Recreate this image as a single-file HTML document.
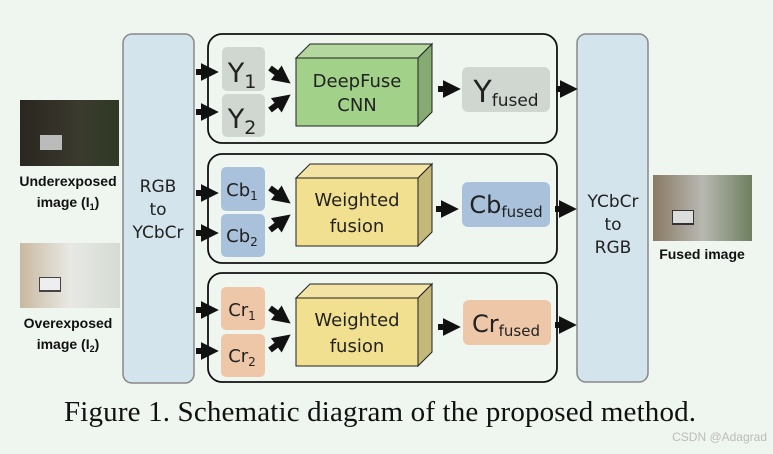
<!DOCTYPE html>
<html><head><style>body{margin:0;background:#eff5ef}</style></head><body>
<svg width="773" height="449" viewBox="0 0 773 449" xmlns="http://www.w3.org/2000/svg" font-family="'DejaVu Sans', sans-serif">
<defs>
<marker id="a" markerWidth="3" markerHeight="3" refX="1.2" refY="1.5" orient="auto" markerUnits="strokeWidth"><path d="M0,0 L3,1.5 L0,3 z" fill="#111"/></marker>
<linearGradient id="ue" x1="0" x2="1"><stop offset="0" stop-color="#2a2620"/><stop offset="0.6" stop-color="#3a3a2e"/><stop offset="1" stop-color="#2f3a25"/></linearGradient>
<linearGradient id="oe" x1="0" x2="1"><stop offset="0" stop-color="#c9b9a0"/><stop offset="0.5" stop-color="#e8e8e4"/><stop offset="1" stop-color="#d5dcd3"/></linearGradient>
<linearGradient id="fe" x1="0" x2="1"><stop offset="0" stop-color="#8a7a65"/><stop offset="0.5" stop-color="#b8b8b2"/><stop offset="1" stop-color="#6f7f60"/></linearGradient>
</defs>
<rect width="773" height="449" fill="#eff5ef"/>
<rect x="20" y="100" width="99" height="66" fill="url(#ue)"/>
<rect x="40" y="135" width="22" height="15" fill="#bbb"/>
<rect x="20" y="243" width="100" height="65" fill="url(#oe)"/>
<rect x="39" y="277" width="22" height="15" fill="#444"/><rect x="40" y="278" width="20" height="12" fill="#eee"/>
<rect x="653" y="175" width="99" height="66" fill="url(#fe)"/>
<rect x="672" y="210" width="22" height="15" fill="#333"/><rect x="673" y="211" width="20" height="12" fill="#ddd"/>
<g font-weight="bold" font-size="13" fill="#111" text-anchor="middle" font-family="'Liberation Sans', sans-serif">
<text x="68" y="186" font-size="14">Underexposed</text><text x="68" y="207" font-size="14">image (I<tspan font-size="9" dy="3">1</tspan><tspan dy="-3">)</tspan></text>
<text x="68" y="328" font-size="14">Overexposed</text><text x="68" y="349" font-size="14">image (I<tspan font-size="9" dy="3">2</tspan><tspan dy="-3">)</tspan></text>
<text x="702" y="259" font-size="14">Fused image</text>
</g>
<rect x="123" y="34" width="71" height="349" rx="9" fill="#d4e4ec" stroke="#888" stroke-width="1.5"/>
<rect x="577" y="34" width="71" height="348" rx="9" fill="#d4e4ec" stroke="#888" stroke-width="1.5"/>
<g font-size="17" fill="#222" text-anchor="middle">
<text x="158" y="192">RGB</text><text x="158" y="215">to</text><text x="158" y="238">YCbCr</text>
<text x="613" y="207">YCbCr</text><text x="613" y="230">to</text><text x="613" y="253">RGB</text>
</g>
<g fill="none" stroke="#111" stroke-width="1.8">
<rect x="208" y="34" width="349" height="109" rx="14"/>
<rect x="208" y="154" width="349" height="109" rx="14"/>
<rect x="208" y="273" width="349" height="109" rx="14"/>
</g>
<g>
<rect x="222" y="47" width="43" height="44" rx="5" fill="#d0d6d0"/>
<rect x="222" y="94" width="43" height="43" rx="5" fill="#d0d6d0"/>
<rect x="221" y="167" width="44" height="44" rx="5" fill="#a9c1db"/>
<rect x="221" y="214" width="44" height="43" rx="5" fill="#a9c1db"/>
<rect x="221" y="287" width="44" height="43" rx="5" fill="#edc7a8"/>
<rect x="221" y="334" width="44" height="43" rx="5" fill="#edc7a8"/>
</g>
<g fill="#222" text-anchor="middle">
<text x="242" y="82" font-size="27">Y<tspan font-size="19" dy="6">1</tspan></text>
<text x="242" y="128" font-size="27">Y<tspan font-size="19" dy="6">2</tspan></text>
<text x="242" y="196" font-size="18">Cb<tspan font-size="12" dy="4">1</tspan></text>
<text x="242" y="242" font-size="18">Cb<tspan font-size="12" dy="4">2</tspan></text>
<text x="242" y="316" font-size="18">Cr<tspan font-size="12" dy="4">1</tspan></text>
<text x="242" y="362" font-size="18">Cr<tspan font-size="12" dy="4">2</tspan></text>
</g>
<g stroke="#222" stroke-width="1">
<path d="M296,58 L310,44 L432,44 L418,58 z" fill="#b4d7a0"/>
<path d="M418,58 L432,44 L432,112 L418,126 z" fill="#86ab72"/>
<rect x="296" y="58" width="122" height="68" fill="#a2d18a"/>
<path d="M296,178 L310,164 L432,164 L418,178 z" fill="#f3e3a4"/>
<path d="M418,178 L432,164 L432,232 L418,246 z" fill="#c5b97a"/>
<rect x="296" y="178" width="122" height="68" fill="#f1e090"/>
<path d="M296,298 L310,284 L432,284 L418,298 z" fill="#f3e3a4"/>
<path d="M418,298 L432,284 L432,352 L418,366 z" fill="#c5b97a"/>
<rect x="296" y="298" width="122" height="68" fill="#f1e090"/>
</g>
<g font-size="18" fill="#222" text-anchor="middle">
<text x="357" y="87">DeepFuse</text><text x="357" y="111">CNN</text>
<text x="357" y="206">Weighted</text><text x="357" y="232">fusion</text>
<text x="357" y="326">Weighted</text><text x="357" y="352">fusion</text>
</g>
<rect x="462" y="67" width="88" height="45" rx="6" fill="#d0d6d0"/>
<rect x="462" y="182" width="88" height="45" rx="6" fill="#a9c1db"/>
<rect x="463" y="300" width="88" height="45" rx="6" fill="#edc7a8"/>
<g fill="#222" text-anchor="middle">
<text x="506" y="102" font-size="30">Y<tspan font-size="17" dy="4">fused</tspan></text>
<text x="506" y="213" font-size="24">Cb<tspan font-size="15" dy="4">fused</tspan></text>
<text x="506" y="332" font-size="24">Cr<tspan font-size="15" dy="4">fused</tspan></text>
</g>
<g stroke="#111" stroke-width="6" marker-end="url(#a)">
<line x1="196" y1="72" x2="208" y2="72"/><line x1="196" y1="112" x2="208" y2="112"/>
<line x1="196" y1="193" x2="208" y2="193"/><line x1="196" y1="233" x2="208" y2="233"/>
<line x1="196" y1="310" x2="208" y2="310"/><line x1="196" y1="351" x2="208" y2="351"/>
<line x1="270" y1="68" x2="282" y2="77"/><line x1="270" y1="110" x2="282" y2="101"/>
<line x1="270" y1="188" x2="282" y2="197"/><line x1="270" y1="230" x2="282" y2="221"/>
<line x1="270" y1="308" x2="282" y2="317"/><line x1="270" y1="350" x2="282" y2="341"/>
<line x1="438" y1="89" x2="450" y2="89"/><line x1="436" y1="209" x2="448" y2="209"/><line x1="438" y1="327" x2="450" y2="327"/>
<line x1="556" y1="89" x2="567" y2="89"/><line x1="555" y1="209" x2="566" y2="209"/><line x1="555" y1="325" x2="566" y2="325"/>
</g>
<text x="380" y="421" font-family="'Liberation Serif', serif" font-size="29" fill="#111" text-anchor="middle" textLength="632">Figure 1. Schematic diagram of the proposed method.</text>
<text x="767" y="441" font-family="'Liberation Sans', sans-serif" font-size="12" fill="#bbb" text-anchor="end">CSDN @Adagrad</text>
</svg>
</body></html>
